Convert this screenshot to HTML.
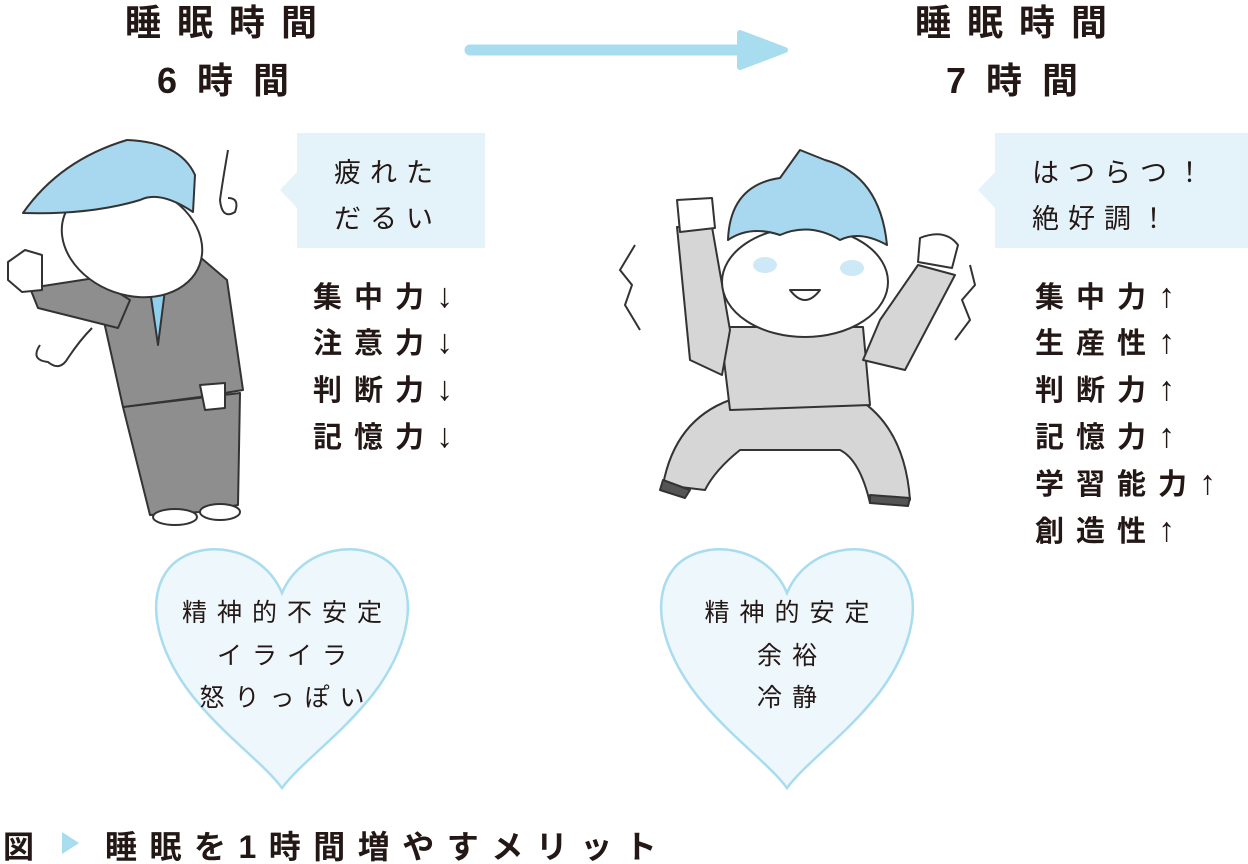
<!DOCTYPE html>
<html><head><meta charset="utf-8"><style>
body{margin:0;background:#fff;}
svg{display:block}
text{font-family:"Liberation Sans","Noto Sans CJK JP",sans-serif;fill:#231815}
.t{font-size:36px;font-weight:bold;letter-spacing:16px}
.b{font-size:29px;font-weight:bold;letter-spacing:12px}
.n{font-size:27px;letter-spacing:9px}
.h{font-size:25px;letter-spacing:10px}
</style></head><body>
<svg width="1248" height="864" viewBox="0 0 1248 864">
<!-- titles -->
<text class="t" x="125" y="35">睡眠時間</text>
<text class="t" x="157" y="93" style="letter-spacing:20px">6時間</text>
<text class="t" x="915" y="35">睡眠時間</text>
<text class="t" x="946" y="93" style="letter-spacing:20px">7時間</text>
<!-- arrow -->
<line x1="470" y1="50" x2="760" y2="50" stroke="#a8dcef" stroke-width="11" stroke-linecap="round"/>
<path d="M740 33 L785 50 L740 67 Z" fill="#a8dcef" stroke="#a8dcef" stroke-width="6" stroke-linejoin="round"/>
<!-- speech boxes -->
<path d="M297 133 H485 V248 H297 V208 L280 190 L297 172 Z" fill="#e4f3fa"/>
<text class="n" x="334" y="182">疲れた</text>
<text class="n" x="334" y="228">だるい</text>
<path d="M995 133 H1248 V248 H995 V208 L978 190 L995 172 Z" fill="#e4f3fa"/>
<text class="n" x="1032" y="182">はつらつ！</text>
<text class="n" x="1032" y="228">絶好調！</text>
<!-- lists -->
<g>
<text class="b" x="313" y="307">集中力<tspan font-size="34">↓</tspan></text>
<text class="b" x="313" y="353">注意力<tspan font-size="34">↓</tspan></text>
<text class="b" x="313" y="400">判断力<tspan font-size="34">↓</tspan></text>
<text class="b" x="313" y="447">記憶力<tspan font-size="34">↓</tspan></text>
<text class="b" x="1035" y="307">集中力<tspan font-size="34">↑</tspan></text>
<text class="b" x="1035" y="353">生産性<tspan font-size="34">↑</tspan></text>
<text class="b" x="1035" y="400">判断力<tspan font-size="34">↑</tspan></text>
<text class="b" x="1035" y="447">記憶力<tspan font-size="34">↑</tspan></text>
<text class="b" x="1035" y="494">学習能力<tspan font-size="34">↑</tspan></text>
<text class="b" x="1035" y="541">創造性<tspan font-size="34">↑</tspan></text>
</g>
<!-- hearts -->
<path d="M282 593 C262 545 200 538 172 565 C140 598 160 660 200 705 C230 740 265 765 282 788 C299 765 334 740 364 705 C404 660 424 598 392 565 C364 538 302 545 282 593 Z" fill="#eef7fc" stroke="#a8dcef" stroke-width="2.5"/>
<path d="M787 593 C767 545 705 538 677 565 C645 598 665 660 705 705 C735 740 770 765 787 788 C804 765 839 740 869 705 C909 660 929 598 897 565 C869 538 807 545 787 593 Z" fill="#eef7fc" stroke="#a8dcef" stroke-width="2.5"/>
<g text-anchor="middle">
<text class="h" x="287" y="621">精神的不安定</text>
<text class="h" x="287" y="664">イライラ</text>
<text class="h" x="287" y="706">怒りっぽい</text>
<text class="h" x="792" y="621">精神的安定</text>
<text class="h" x="792" y="664">余裕</text>
<text class="h" x="792" y="706">冷静</text>
</g>
<!-- left figure -->
<g stroke="#333" stroke-width="2" stroke-linejoin="round">
<path d="M123 407 L240 393 L238 505 L200 512 L150 515 Z" fill="#8e8e8e"/>
<ellipse cx="175" cy="517" rx="22" ry="8" fill="#fff"/>
<ellipse cx="220" cy="512" rx="20" ry="8" fill="#fff"/>
<path d="M97 290 L200 257 L227 280 L243 390 L200 397 L123 407 Z" fill="#8e8e8e"/>
<path d="M150 290 L158 345 L165 290 Z" fill="#8fd0ee"/>
<path d="M30 288 L95 278 L130 300 L118 328 L38 308 Z" fill="#8e8e8e"/>
<path d="M8 262 L25 250 L42 255 L42 290 L22 292 L8 280 Z" fill="#fff"/>
<path d="M200 385 L225 383 L225 408 L205 410 Z" fill="#fff"/>
<ellipse cx="132" cy="240" rx="72" ry="55" transform="rotate(20 132 240)" fill="#fff"/>
<path d="M23 213 Q60 160 127 140 Q180 142 195 175 L193 212 Q160 190 140 200 Q90 215 23 213 Z" fill="#a8d8ef"/>
<path d="M228 150 Q222 185 220 200 Q222 220 235 212 Q240 198 228 198" fill="none"/>
<path d="M40 345 Q30 360 48 362 Q60 372 68 358 Q80 340 92 328" fill="none"/>
</g>
<!-- right figure -->
<g stroke="#333" stroke-width="2" stroke-linejoin="round">
<path d="M663 485 Q675 420 730 400 L860 400 Q905 430 910 500 L870 503 Q860 460 840 450 L740 450 Q715 470 705 490 Z" fill="#d6d6d6"/>
<path d="M663 480 L690 490 L685 498 L660 490 Z" fill="#555"/>
<path d="M870 495 L910 498 L908 506 L870 503 Z" fill="#555"/>
<path d="M720 327 L863 327 L870 405 L730 410 Z" fill="#d6d6d6"/>
<path d="M677 227 L712 227 L730 330 L722 375 L690 360 Z" fill="#d6d6d6"/>
<path d="M918 265 L955 275 L905 370 L863 360 L880 320 Z" fill="#d6d6d6"/>
<path d="M677 200 L712 198 L715 228 L680 232 Z" fill="#fff"/>
<path d="M920 238 Q945 228 958 245 L952 268 L918 262 Z" fill="#fff"/>
<ellipse cx="805" cy="282" rx="83" ry="55" fill="#fff"/>
<path d="M728 240 Q730 185 780 178 L800 150 L825 160 Q880 175 887 245 Q860 230 840 240 Q810 222 780 235 Q750 225 728 240 Z" fill="#a8d8ef"/>
<path d="M790 290 Q805 310 820 290 Z" fill="#fff"/>
</g>
<ellipse cx="765" cy="265" rx="12" ry="8" fill="#cde8f6"/>
<ellipse cx="852" cy="268" rx="12" ry="8" fill="#cde8f6"/>
<g stroke="#333" stroke-width="2" fill="none">
<path d="M635 245 L620 270 L632 285 L625 305 L640 330"/>
<path d="M970 265 L975 285 L962 300 L970 320 L955 340"/>
</g>
<!-- caption -->
<text x="3" y="858" style="font-size:31px;font-weight:bold">図</text>
<path d="M62 832 L79 843 L62 854 Z" fill="#a8dcef"/>
<text x="105" y="858" style="font-size:32px;font-weight:bold;letter-spacing:12.5px">睡眠を1時間増やすメリット</text>
</svg>
</body></html>
